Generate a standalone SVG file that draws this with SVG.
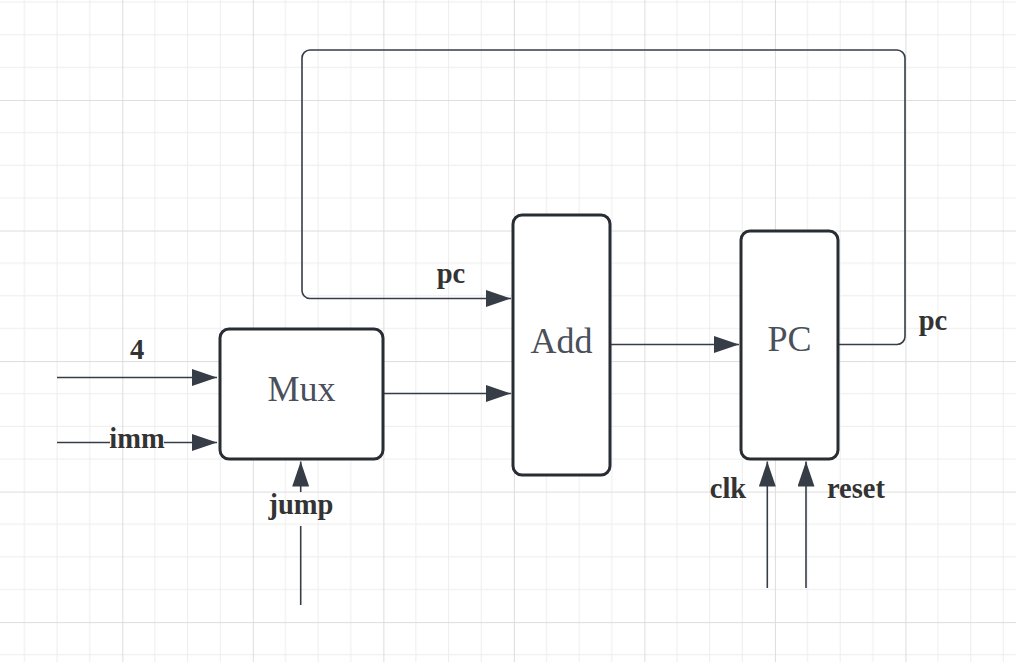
<svg xmlns="http://www.w3.org/2000/svg" width="1016" height="662" viewBox="0 0 1016 662">
<defs>
<pattern id="grid" x="-8.2" y="-30.5" width="130.52" height="130.52" patternUnits="userSpaceOnUse">
<path d="M32.63 0V130.52M65.26 0V130.52M97.89 0V130.52M0 32.63H130.52M0 65.26H130.52M0 97.89H130.52" stroke="#ededed" stroke-width="1" fill="none"/>
<path d="M0.5 0V130.52M0 0.5H130.52" stroke="#dddddd" stroke-width="1" fill="none"/>
</pattern>
<marker id="arr" markerWidth="25" markerHeight="17" refX="25" refY="8.5" orient="auto" markerUnits="userSpaceOnUse">
<path d="M0 0L25 8.5L0 17Z" fill="#363d47"/>
</marker>
<style>
.box{fill:#ffffff;stroke:#282c33;stroke-width:3}
.btxt{font-family:"Liberation Serif",serif;font-size:36px;fill:#4a505b;text-anchor:middle}
.lbl{font-family:"Liberation Serif",serif;font-size:28.5px;font-weight:bold;fill:#333333;text-anchor:middle}
.wire{fill:none;stroke:#363d47;stroke-width:1.6}
</style>
</defs>
<rect width="1016" height="662" fill="#ffffff"/>
<rect width="1016" height="662" fill="url(#grid)"/>
<g id="connectors">
<path class="wire" d="M57 377.5H217" marker-end="url(#arr)"/>
<path class="wire" d="M57 442.5H110"/>
<path class="wire" d="M164 442.5H217" marker-end="url(#arr)"/>
<path class="wire" d="M300.7 605V526"/>
<path class="wire" d="M300.7 492V461.5" marker-end="url(#arr)"/>
<path class="wire" d="M383 393.5H511" marker-end="url(#arr)"/>
<path class="wire" d="M611 344.5H739" marker-end="url(#arr)"/>
<path class="wire" d="M839 344.5H897A8 8 0 0 0 905 336.5V58A8 8 0 0 0 897 50H310A8 8 0 0 0 302 58V290A8 8 0 0 0 310 298.5H511" marker-end="url(#arr)"/>
<path class="wire" d="M767.3 588V461.5" marker-end="url(#arr)"/>
<path class="wire" d="M806 588V461.5" marker-end="url(#arr)"/>
<text class="lbl" x="137" y="359">4</text>
<text class="lbl" x="137" y="447.5">imm</text>
<text class="lbl" x="301" y="514">jump</text>
<text class="lbl" x="451" y="283">pc</text>
<text class="lbl" x="933" y="330">pc</text>
<text class="lbl" x="728" y="498">clk</text>
<text class="lbl" x="856" y="498">reset</text>
</g>
<g id="mux">
<rect class="box" x="220" y="329" width="163" height="130" rx="9"/>
<text class="btxt" x="301.5" y="401">Mux</text>
</g>
<g id="add">
<rect class="box" x="513" y="215" width="97" height="260" rx="9"/>
<text class="btxt" x="561.5" y="352.5">Add</text>
</g>
<g id="pc">
<rect class="box" x="741" y="231" width="97" height="228" rx="9"/>
<text class="btxt" x="789.5" y="350.5">PC</text>
</g>
</svg>
